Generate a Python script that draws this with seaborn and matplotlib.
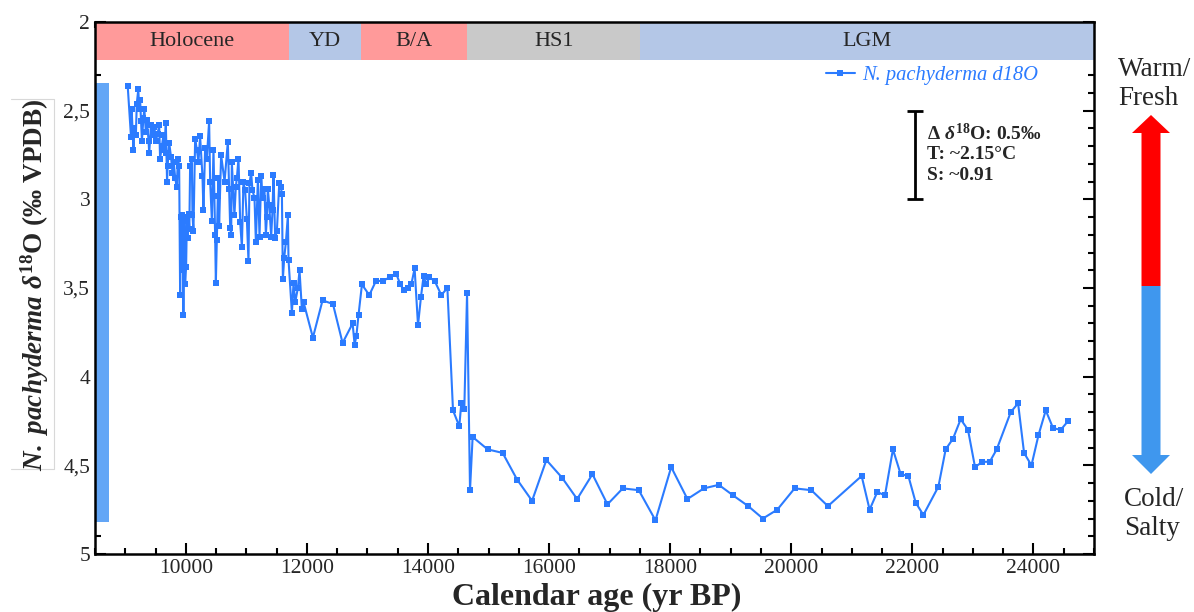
import matplotlib
matplotlib.use("Agg")
import matplotlib.pyplot as plt
import numpy as np
import pandas as pd
import seaborn as sns
from matplotlib.patches import Rectangle, Polygon
from matplotlib.lines import Line2D
from matplotlib.ticker import MultipleLocator, FuncFormatter

# ---- data: calendar age (yr BP) and N. pachyderma d18O (permil VPDB) ----
age = [
    9040, 9095, 9105, 9135, 9150, 9175, 9190, 9215, 9230, 9245, 9260, 9275,
    9300, 9315, 9340, 9355, 9385, 9395, 9425, 9450, 9480, 9505, 9535, 9560,
    9575, 9605, 9630, 9645, 9670, 9680, 9690, 9700, 9725, 9755, 9780, 9800,
    9825, 9850, 9870, 9890, 9906, 9922, 9934, 9945, 9960, 9975, 9988, 10005,
    10018, 10033, 10045, 10058, 10071, 10099, 10110, 10126, 10154, 10182,
    10209, 10236, 10275, 10291, 10319, 10347, 10385, 10402, 10430, 10457,
    10484, 10496, 10512, 10529, 10539, 10550, 10583, 10640, 10694, 10716,
    10733, 10749, 10760, 10803, 10826, 10843, 10870, 10898, 10926, 10952,
    10980, 11008, 11035, 11051, 11079, 11101, 11134, 11157, 11190, 11217,
    11245, 11267, 11299, 11322, 11339, 11355, 11377, 11410, 11432, 11448,
    11476, 11504, 11543, 11570, 11587, 11603, 11625, 11653, 11686, 11696,
    11752, 11779, 11807, 11851, 11878, 11917, 11945, 12099, 12258, 12430,
    12589, 12755, 12788, 12817, 12853, 12909, 13030, 13141, 13256, 13366,
    13476, 13542, 13597, 13663, 13724, 13779, 13835, 13884, 13928, 13972,
    14021, 14110, 14220, 14320, 14413, 14517, 14550, 14600, 14645, 14694,
    14737, 14985, 15233, 15471, 15719, 15955, 16215, 16463, 16716, 16964,
    17217, 17481, 17757, 18017, 18285, 18556, 18803, 19041, 19289, 19531,
    19769, 20055, 20331, 20605, 21162, 21294, 21421, 21547, 21679, 21807,
    21934, 22055, 22182, 22430, 22550, 22671, 22798, 22919, 23035, 23157,
    23278, 23393, 23625, 23746, 23845, 23967, 24083, 24203, 24324, 24451,
    24572,
]
d18o = [
    2.36, 2.65, 2.49, 2.72, 2.60, 2.64, 2.46, 2.38, 2.49, 2.44, 2.56, 2.67,
    2.54, 2.49, 2.62, 2.55, 2.67, 2.74, 2.58, 2.64, 2.59, 2.67, 2.63, 2.58,
    2.77, 2.70, 2.64, 2.72, 2.57, 2.74, 2.90, 2.81, 2.68, 2.76, 2.85, 2.79,
    2.88, 2.93, 2.77, 2.81, 3.54, 3.10, 3.40, 3.09, 3.65, 3.12, 3.48, 3.38,
    3.10, 3.22, 3.08, 3.17, 2.81, 2.77, 3.09, 3.18, 2.66, 2.72,
    2.79, 2.645, 2.87, 3.06, 2.71, 2.77, 2.56, 2.90, 3.12, 2.72,
    3.20, 3.47, 3.23, 2.98, 2.88, 3.15, 2.75, 2.90, 2.675, 2.94,
    3.16, 3.20, 2.79, 3.09, 2.93, 2.88, 2.77, 3.13, 3.27, 2.90,
    2.95, 3.11, 3.35, 2.91, 2.85, 2.95, 2.99, 3.24, 2.89, 3.21,
    2.87, 2.99, 2.94, 3.20, 3.10, 2.94, 3.03, 3.21, 3.06, 2.86,
    3.22, 3.18, 2.91, 2.93, 2.97, 3.45, 3.33, 3.24, 3.09, 3.34,
    3.64, 3.47, 3.58, 3.50, 3.40, 3.62, 3.58, 3.78, 3.57, 3.59,
    3.81, 3.70, 3.82, 3.77, 3.65, 3.48, 3.54, 3.46, 3.46, 3.44,
    3.42, 3.48, 3.51, 3.50, 3.48, 3.39, 3.71, 3.55, 3.43, 3.48,
    3.44, 3.46, 3.54, 3.50, 4.19, 4.28, 4.15, 4.18, 3.53, 4.64,
    4.34, 4.41, 4.43, 4.58, 4.70, 4.47, 4.57, 4.69, 4.55, 4.72,
    4.63, 4.64, 4.81, 4.51, 4.69, 4.63, 4.61, 4.67, 4.73, 4.80,
    4.75, 4.63, 4.64, 4.73, 4.56, 4.75, 4.65, 4.67, 4.41, 4.55,
    4.56, 4.71, 4.78, 4.62, 4.41, 4.35, 4.24, 4.30, 4.51, 4.48,
    4.48, 4.41, 4.20, 4.15, 4.43, 4.50, 4.33, 4.19, 4.29, 4.30,
    4.25,
]

# climate periods shown in the top band
period_names = ["Holocene", "YD", "B/A", "HS1", "LGM"]
period_bounds = [8500, 11700, 12900, 14650, 17500, 25000]
period_colors = ["#ff9a9a", "#b4c7e7", "#ff9a9a", "#c9c9c9", "#b4c7e7"]

# reference scale bar
scale_age = 22050
scale_top, scale_bottom = 2.5, 3.0
scale_lines = [r"$\Delta\ \mathit{\delta}^{18}\mathrm{O}$: 0.5‰", "T: ~2.15°C", "S: ~0.91"]

series_label = "N. pachyderma d18O"
line_color = "#2b7bff"

W, H = 1194, 612

sns.set_style("ticks")
plt.rcParams["font.family"] = ["Liberation Serif", "DejaVu Serif"]
plt.rcParams["mathtext.fontset"] = "custom"
plt.rcParams["mathtext.rm"] = "Liberation Serif:bold"
plt.rcParams["mathtext.it"] = "Liberation Serif:italic:bold"
plt.rcParams["mathtext.bf"] = "Liberation Serif:bold"

fig = plt.figure(figsize=(W / 100, H / 100), dpi=100)
ax = fig.add_axes([95 / W, 1 - 554 / H, (1094 - 95) / W, (554 - 22) / H])

df = pd.DataFrame({"age": age, "d18o": d18o})
sns.lineplot(data=df, x="age", y="d18o", ax=ax, color=line_color, marker="s",
             markersize=4.5, markeredgewidth=0, linewidth=1.5,
             estimator=None, legend=False, zorder=3)

ax.set_xlim(8500, 25000)
ax.set_ylim(5, 2)

# period band along the top
band_bottom = 2.215
for name, x0, x1, c in zip(period_names, period_bounds[:-1], period_bounds[1:], period_colors):
    ax.add_patch(Rectangle((x0, 2.0), x1 - x0, band_bottom - 2.0, facecolor=c,
                           edgecolor="none", zorder=1))
    ax.text((x0 + x1) / 2, (2.0 + band_bottom) / 2, name, ha="center", va="center",
            fontsize=16, zorder=2)

# blue bar along the left edge
ax.add_patch(Rectangle((8500, 2.345), 225, 4.818 - 2.345, facecolor="#63a6f6",
                       edgecolor="none", zorder=1))

# scale bar and its annotation
ax.errorbar([scale_age], [(scale_top + scale_bottom) / 2], yerr=[(scale_bottom - scale_top) / 2],
            fmt="none", ecolor="black", elinewidth=2, capsize=6, capthick=2, zorder=4)
for i, s in enumerate(scale_lines):
    ax.text(22250, 2.628 + i * 0.12, s, ha="left", va="center", fontsize=14,
            fontweight="bold")

# axes styling
ax.xaxis.set_major_locator(MultipleLocator(2000))
ax.xaxis.set_minor_locator(MultipleLocator(500))
ax.yaxis.set_major_locator(MultipleLocator(0.5))
ax.yaxis.set_minor_locator(MultipleLocator(0.1))
ax.xaxis.set_major_formatter(FuncFormatter(lambda v, p: f"{v:.0f}"))
ax.yaxis.set_major_formatter(FuncFormatter(lambda v, p: f"{v:g}".replace(".", ",")))
ax.tick_params(which="both", direction="in", top=True, right=True, width=1.5,
               labelsize=15.5, color="black")
ax.tick_params(which="major", length=8)
ax.tick_params(which="minor", length=4)
for sp in ax.spines.values():
    sp.set_linewidth(1.8)
    sp.set_color("black")
    sp.set_zorder(5)
ax.set_xlabel("")
ax.set_ylabel("")

# legend
handle = Line2D([], [], color=line_color, marker="s", markersize=4, linewidth=1.5,
                markeredgewidth=0)
leg = ax.legend([handle], [series_label], loc="center left",
                bbox_to_anchor=((826 - 95) / 999, (554 - 75) / 532),
                frameon=False, handlelength=1.4, handletextpad=0.35, borderpad=0,
                borderaxespad=0,
                prop={"family": "Liberation Serif", "style": "italic", "size": 14.8})
for t in leg.get_texts():
    t.set_color(line_color)

# axis titles
fig.text(597 / W, 1 - 597 / H, "Calendar age (yr BP)", ha="center", va="center",
         fontsize=23, fontweight="bold")
fig.text(35 / W, 1 - 285 / H,
         r"$\mathit{N.\ pachyderma\ \delta}^{18}\mathrm{O\ (‰\ VPDB)}$",
         ha="center", va="center", rotation=90, fontsize=19.5)

# light frame around the y title
fig.add_artist(Line2D([11 / W, 54 / W, 54 / W, 11 / W],
                      [1 - 99 / H, 1 - 99 / H, 1 - 469 / H, 1 - 469 / H],
                      color="#d8d8d8", linewidth=0.8))

# warm/fresh vs cold/salty arrow
def fxy(px, py):
    return (px / W, 1 - py / H)

cx = 1151
red_arrow = [fxy(cx, 115), fxy(cx + 19, 133), fxy(cx + 9.5, 133), fxy(cx + 9.5, 286),
             fxy(cx - 9.5, 286), fxy(cx - 9.5, 133), fxy(cx - 19, 133)]
blue_arrow = [fxy(cx - 9.5, 286), fxy(cx + 9.5, 286), fxy(cx + 9.5, 455), fxy(cx + 19, 455),
              fxy(cx, 474), fxy(cx - 19, 455), fxy(cx - 9.5, 455)]
fig.add_artist(Polygon(red_arrow, closed=True, transform=fig.transFigure,
                       facecolor="#ff0000", edgecolor="none"))
fig.add_artist(Polygon(blue_arrow, closed=True, transform=fig.transFigure,
                       facecolor="#3f97ee", edgecolor="none"))
fig.text(1118 / W, 1 - 84 / H, "Warm/\nFresh", ha="left", va="center",
         fontsize=19.5, linespacing=1.25)
fig.text(1124 / W, 1 - 514 / H, "Cold/\nSalty", ha="left", va="center",
         fontsize=19.5, linespacing=1.25)

fig.savefig("out.png", dpi=100)
